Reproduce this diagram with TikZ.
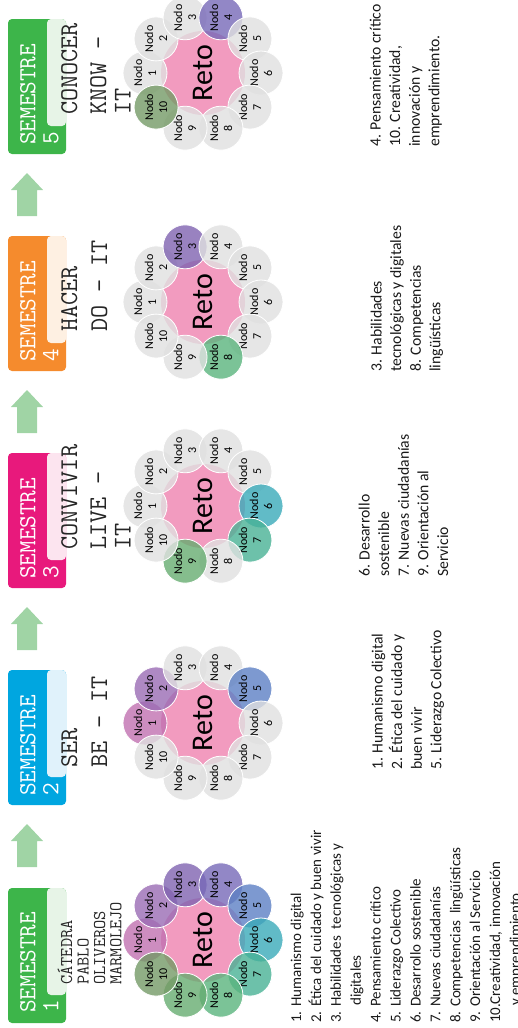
\documentclass[tikz,border=0pt]{standalone}
\usepackage{fontspec}
\usetikzlibrary{calc}
\newfontfamily\carl{Carlito}
\definecolor{semA}{HTML}{3DB54A}
\definecolor{semAl}{HTML}{E7F4E7}
\definecolor{semB}{HTML}{00A6E0}
\definecolor{semBl}{HTML}{E0F2FB}
\definecolor{semC}{HTML}{E8197C}
\definecolor{semCl}{HTML}{FCE4EF}
\definecolor{semD}{HTML}{F58B2D}
\definecolor{semDl}{HTML}{FEF0E2}
\definecolor{arr}{HTML}{A0D4A5}
\definecolor{reto}{HTML}{F29BBF}
\definecolor{gris}{HTML}{E0E0E0}
\definecolor{na}{HTML}{C070B0}
\definecolor{nb}{HTML}{9A6CB4}
\definecolor{nc}{HTML}{7F63B0}
\definecolor{nd}{HTML}{7769B8}
\definecolor{ne}{HTML}{5D80C4}
\definecolor{nf}{HTML}{3AAAB9}
\definecolor{ng}{HTML}{48B295}
\definecolor{nh}{HTML}{5AB47D}
\definecolor{ni}{HTML}{66AC70}
\definecolor{nj}{HTML}{749A66}
\tikzset{
  semb/.style={rectangle, rounded corners=4pt, inner sep=0pt, minimum width=58pt, minimum height=135pt},
  tabb/.style={rectangle, rounded corners=4pt, inner sep=0pt, minimum width=19pt, minimum height=107pt},
  semtxt/.style={rotate=90, anchor=north west, inner sep=0pt, align=left, text=white, font=\ttfamily\fontsize{24.5}{23}\selectfont},
  subtxt/.style={rotate=90, anchor=north west, inner sep=0pt, align=left, text=black!85, font=\ttfamily\fontsize{25.5}{24.5}\selectfont},
  cattxt/.style={rotate=90, anchor=north west, inner sep=0pt, align=left, text=black!85, font=\ttfamily\fontsize{17.9}{16.4}\selectfont},
  lista/.style={rotate=90, anchor=north west, inner sep=0pt, align=left, text=black!90, font=\carl\fontsize{15.7}{19.6}\selectfont},
  retost/.style={circle, minimum size=84pt, inner sep=0pt, fill=reto, rotate=90, font=\carl\fontsize{30}{32}\selectfont},
  nodo/.style={circle, minimum size=44pt, inner sep=0pt, draw=white, line width=0.8pt, fill opacity=0.8, text opacity=1, rotate=90, align=center, font=\carl\fontsize{12}{14}\selectfont},
  flecha/.style={fill=arr}
}
\newcommand\flor[4]{%
  \node[retost] (#1r) at (#2,#3) {Reto};
  \foreach \c [count=\k] in {#4} {
    \pgfmathsetmacro\ang{36*\k-216}
    \node[nodo, fill=\c] (#1n\k) at ($(#1r.center)+(\ang:58)$) {Nodo\\\k};
  }}
\newcommand\flechaup[2]{%
  \fill[flecha] (27,#2) coordinate (#1) -- (43,#2+17) -- (37,#2+17) -- (37,#2+43) -- (17,#2+43) -- (17,#2+17) -- (11,#2+17) -- cycle;}
\begin{document}
\begin{tikzpicture}[x=1pt, y=-1pt]
\useasboundingbox (0,0) rectangle (518,1028);
% semester boxes
\node[semb, fill=semA] (b1) at (37,955.5) {};
\node[tabb, fill=semAl] (t1) at (56.5,941.5) {};
\node[semb, fill=semB] (b2) at (37,737.5) {};
\node[tabb, fill=semBl] (t2) at (56.5,723.5) {};
\node[semb, fill=semC] (b3) at (37,520.5) {};
\node[tabb, fill=semCl] (t3) at (56.5,506.5) {};
\node[semb, fill=semD] (b4) at (37,303.5) {};
\node[tabb, fill=semDl] (t4) at (56.5,289.5) {};
\node[semb, fill=semA] (b5) at (37,86.5) {};
\node[tabb, fill=semAl] (t5) at (56.5,72.5) {};
% semester titles
\node[semtxt] (h1) at (20,1013) {SEMESTRE\\1};
\node[semtxt] (h2) at (20,796) {SEMESTRE\\2};
\node[semtxt] (h3) at (20,579) {SEMESTRE\\3};
\node[semtxt] (h4) at (20,362) {SEMESTRE\\4};
\node[semtxt] (h5) at (20,145) {SEMESTRE\\5};
% subtitles
\node[cattxt] (c1) at (57.5,985) {CÁTEDRA\\PABLO\\OLIVEROS\\MARMOLEJO};
\node[subtxt] (c2) at (61,768) {SER\\[5.5pt]BE – IT};
\node[subtxt] (c3) at (61,550) {CONVIVIR\\[4.5pt]LIVE –\\IT};
\node[subtxt] (c4) at (61,332) {HACER\\[5.5pt]DO – IT};
\node[subtxt] (c5) at (61,115) {CONOCER\\[4.5pt]KNOW –\\IT};
% arrows
\flechaup{a1}{824}
\flechaup{a2}{607}
\flechaup{a3}{390}
\flechaup{a4}{173}
% flowers
\flor{f1}{203}{940}{na,nb,nc,nd,ne,nf,ng,nh,ni,nj}
\flor{f2}{203}{723}{na,nb,gris,gris,ne,gris,gris,gris,gris,gris}
\flor{f3}{203}{506}{gris,gris,gris,gris,gris,nf,ng,gris,ni,gris}
\flor{f4}{203}{302}{gris,gris,nc,gris,gris,gris,gris,nh,gris,gris}
\flor{f5}{203}{73}{gris,gris,gris,nd,gris,gris,gris,gris,gris,nj}
% lists
\node[lista, font=\carl\fontsize{15}{19.9}\selectfont] (l1) at (290.5,1023) {1. Humanismo digital\\
2. Ética del cuidado y buen vivir\\
3. Habilidades\ \ tecnológicas y\\
\hspace*{17pt}digitales\\
4. Pensamiento crítico\\
5. Liderazgo Colectivo\\
6. Desarrollo sostenible\\
7. Nuevas ciudadanías\\
8. Competencias\ \ lingüísticas\\
9. Orientación al Servicio\\
10.Creatividad, innovación\\
\hspace*{17pt}y emprendimiento};
\node[lista] (l2) at (371.5,770) {1. Humanismo digital\\2. Ética del cuidado y\\buen vivir\\5. Liderazgo Colectivo};
\node[lista] (l3) at (358.5,577) {6. Desarrollo\\sostenible\\7. Nuevas ciudadanías\\9. Orientación al\\Servicio};
\node[lista] (l4) at (370.5,372) {3. Habilidades\\tecnológicas y digitales\\8. Competencias\\lingüísticas};
\node[lista] (l5) at (369.5,147) {4. Pensamiento crítico\\10. Creatividad,\\innovación y\\emprendimiento.};
\end{tikzpicture}
\end{document}
